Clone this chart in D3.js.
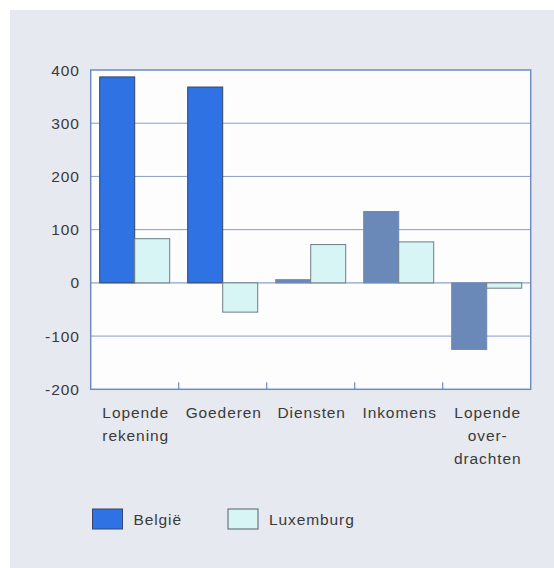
<!DOCTYPE html>
<html>
<head>
<meta charset="utf-8">
<script src="https://cdn.jsdelivr.net/npm/d3@7"></script>
<style>
  html, body { margin: 0; padding: 0; background: #ffffff; }
  svg { display: block; }
  text { font-family: "Liberation Sans", Arial, Helvetica, sans-serif; fill: #3a3a3a; }
</style>
</head>
<body>
<svg id="chart" width="554" height="568"></svg>
<script>
// Lopende rekening van de betalingsbalans (saldi)
const categories = [
  ["Lopende", "rekening"],
  ["Goederen"],
  ["Diensten"],
  ["Inkomens"],
  ["Lopende", "over-", "drachten"]
];
const seriesNames = ["België", "Luxemburg"];
const belgie = [387, 368, 6, 134, -125];
const luxemburg = [83, -55, 72, 77, -10];
const yTicks = [-200, -100, 0, 100, 200, 300, 400];

const svg = d3.select("#chart");

// panel background
svg.append("rect").attr("x", 10).attr("y", 10).attr("width", 544).attr("height", 558)
  .attr("fill", "#e6e9ef");

const plot = { left: 90.7, right: 530.7, top: 70, bottom: 389.3 };

const x = d3.scaleBand()
  .domain(d3.range(categories.length))
  .range([plot.left, plot.right])
  .padding(0);

const xs = d3.scaleBand()
  .domain(seriesNames)
  .range([0, x.bandwidth()])
  .paddingInner(0)
  .paddingOuter(0.257);

const y = d3.scaleLinear().domain([-200, 400]).range([plot.bottom, plot.top]);

// plot background
svg.append("rect")
  .attr("x", plot.left).attr("y", plot.top)
  .attr("width", plot.right - plot.left).attr("height", plot.bottom - plot.top)
  .attr("fill", "#fdfdfd");

// gridlines
svg.append("g").selectAll("line")
  .data(yTicks.filter(t => t !== -200 && t !== 400 && t !== 0))
  .join("line")
  .attr("x1", plot.left).attr("x2", plot.right)
  .attr("y1", d => y(d)).attr("y2", d => y(d))
  .attr("stroke", "#8a9dc4").attr("stroke-width", 1);

// zero line
svg.append("line")
  .attr("x1", plot.left).attr("x2", plot.right)
  .attr("y1", y(0)).attr("y2", y(0))
  .attr("stroke", "#8ea2c6").attr("stroke-width", 1.2);

// bar fills for België per category
const belgieFill = i => (i < 2 ? "#2f72e4" : "#6a88b8");
const belgieStroke = i => (i < 2 ? "#34456a" : "#6a88b8");

const rows = categories.map((c, i) => ({ i, values: [belgie[i], luxemburg[i]] }));

const groups = svg.append("g").selectAll("g")
  .data(rows)
  .join("g")
  .attr("transform", d => `translate(${x(d.i)},0)`);

groups.selectAll("rect")
  .data(d => d.values.map((v, k) => ({ i: d.i, key: seriesNames[k], v })))
  .join("rect")
  .attr("x", d => xs(d.key))
  .attr("width", xs.bandwidth())
  .attr("y", d => y(Math.max(0, d.v)))
  .attr("height", d => Math.abs(y(d.v) - y(0)))
  .attr("fill", d => d.key === "België" ? belgieFill(d.i) : "#d6f5f4")
  .attr("stroke", d => d.key === "België" ? belgieStroke(d.i) : "#6f7c86")
  .attr("stroke-width", 1);

// plot frame
svg.append("rect")
  .attr("x", plot.left).attr("y", plot.top)
  .attr("width", plot.right - plot.left).attr("height", plot.bottom - plot.top)
  .attr("fill", "none").attr("stroke", "#6f8cc4").attr("stroke-width", 1.5);

// category ticks along the bottom edge (pointing inward)
svg.append("g").selectAll("line")
  .data(d3.range(1, categories.length))
  .join("line")
  .attr("x1", d => x(d)).attr("x2", d => x(d))
  .attr("y1", plot.bottom).attr("y2", plot.bottom - 7)
  .attr("stroke", "#6f8cc4").attr("stroke-width", 1.2);

// y tick labels
svg.append("g").selectAll("text")
  .data(yTicks)
  .join("text")
  .attr("x", 80)
  .attr("y", d => y(d) + 5.5)
  .attr("text-anchor", "end")
  .attr("font-size", "15.5px")
  .attr("letter-spacing", "1px")
  .text(d => d);

// category labels
const catLabels = svg.append("g").selectAll("text")
  .data(categories)
  .join("text")
  .attr("text-anchor", "middle")
  .attr("font-size", "15.5px")
  .attr("letter-spacing", "0.9px");

catLabels.selectAll("tspan")
  .data((d, i) => d.map(line => ({ line, i })))
  .join("tspan")
  .attr("x", d => x(d.i) + x.bandwidth() / 2 + 1)
  .attr("y", (d, j) => 417.5 + j * 23)
  .text(d => d.line);

// legend
const legend = svg.append("g").selectAll("g")
  .data(seriesNames)
  .join("g")
  .attr("transform", (d, k) => `translate(${k === 0 ? 92.5 : 228},509)`);

legend.append("rect")
  .attr("width", 30).attr("height", 20)
  .attr("fill", (d, k) => k === 0 ? "#2f72e4" : "#d6f5f4")
  .attr("stroke", (d, k) => k === 0 ? "#34456a" : "#55606a")
  .attr("stroke-width", 1);

legend.append("text")
  .attr("x", 41)
  .attr("y", 16)
  .attr("font-size", "15.5px")
  .attr("letter-spacing", "0.9px")
  .text(d => d);
</script>
</body>
</html>
